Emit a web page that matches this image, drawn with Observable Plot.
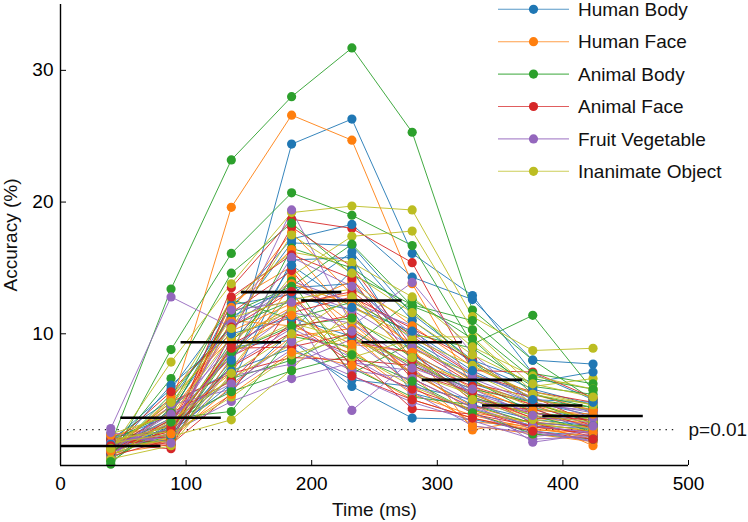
<!DOCTYPE html>
<html>
<head>
<meta charset="utf-8">
<script src="https://cdn.jsdelivr.net/npm/d3@7"></script>
<script src="https://cdn.jsdelivr.net/npm/@observablehq/plot@0.6"></script>
<style>
  body { margin: 0; background: #fff; }
  #wrap { position: relative; width: 748px; height: 522px; }
  #legend { position: absolute; left: 0; top: 0; pointer-events: none; }
</style>
</head>
<body>
<div id="wrap"></div>
<script>
// ---------- data ----------
const times = [40, 88, 136, 184, 232, 280, 328, 376, 424];
const categories = ["Human Body", "Human Face", "Animal Body", "Animal Face", "Fruit Vegetable", "Inanimate Object"];
const colors = ["#1f77b4", "#ff7f0e", "#2ca02c", "#d62728", "#9467bd", "#bcbd22"];

const humanBody = [
  [1.0, 3.0, 7.5, 24.4, 26.3, 16.1, 12.9, 7.0, 5.0],
  [1.8, 5.8, 12.0, 17.2, 18.3, 14.3, 12.6, 8.0, 7.7],
  [1.2, 4.2, 10.8, 16.9, 16.7, 11.5, 8.0, 6.3, 7.1],
  [0.8, 2.5, 6.2, 15.6, 15.8, 8.4, 5.5, 4.4, 2.4],
  [2.0, 5.0, 11.3, 13.5, 13.8, 9.5, 6.8, 5.5, 4.0],
  [1.5, 3.4, 8.5, 12.8, 11.8, 5.5, 4.3, 3.0, 2.8],
  [1.3, 2.0, 9.0, 9.5, 6.0, 3.6, 3.5, 2.6, 2.2],
  [0.6, 4.6, 7.2, 8.9, 6.5, 6.0, 5.0, 4.4, 3.4],
  [1.9, 3.8, 12.2, 13.0, 16.2, 11.0, 7.8, 5.8, 4.6],
  [1.4, 2.8, 5.8, 10.2, 14.8, 8.4, 6.2, 4.8, 3.8],
  [0.9, 6.1, 10.0, 11.2, 9.8, 7.0, 4.6, 3.5, 3.0],
  [1.6, 2.3, 8.0, 15.2, 12.0, 10.2, 7.2, 5.0, 4.8]
];
const humanFace = [
  [1.5, 4.5, 19.6, 26.6, 24.7, 13.8, 6.0, 4.0, 3.0],
  [1.2, 3.2, 11.8, 17.7, 13.0, 9.0, 2.7, 3.5, 1.5],
  [1.8, 2.2, 12.4, 15.1, 9.9, 6.0, 3.3, 3.0, 2.0],
  [0.9, 1.6, 8.2, 14.2, 10.8, 7.0, 4.5, 3.2, 2.6],
  [2.1, 4.0, 10.2, 12.3, 13.0, 8.0, 5.2, 3.6, 3.2],
  [1.4, 2.6, 11.0, 10.6, 8.8, 5.4, 3.8, 2.8, 2.2],
  [1.0, 3.5, 7.0, 13.8, 12.2, 9.2, 6.4, 4.6, 3.6],
  [1.7, 2.0, 6.0, 9.8, 10.4, 7.4, 4.0, 3.3, 2.9],
  [0.7, 5.2, 9.6, 12.0, 14.0, 10.6, 7.5, 5.4, 4.2],
  [1.3, 1.8, 12.0, 16.4, 11.2, 6.8, 3.0, 2.4, 1.8],
  [2.3, 3.0, 8.8, 11.4, 9.2, 8.6, 5.8, 4.2, 3.9],
  [1.1, 2.4, 5.4, 8.6, 7.6, 5.0, 3.6, 2.7, 2.5]
];
const animalBody = [
  [1.6, 13.4, 23.2, 28.0, 31.7, 25.3, 11.8, 8.0, 5.0],
  [0.4, 8.8, 16.1, 20.7, 19.0, 16.7, 9.2, 11.4, 5.7],
  [1.0, 6.6, 14.6, 18.4, 14.5, 12.2, 11.0, 7.0, 6.2],
  [0.1, 4.4, 12.6, 11.1, 12.4, 10.0, 8.9, 6.0, 5.4],
  [1.3, 3.6, 4.1, 9.8, 9.0, 12.6, 9.6, 5.4, 4.4],
  [2.2, 2.6, 9.4, 14.0, 7.4, 5.2, 4.6, 3.2, 3.0],
  [0.8, 5.4, 10.6, 12.5, 7.0, 9.3, 6.5, 4.0, 3.6],
  [1.7, 1.9, 7.8, 16.5, 15.0, 11.8, 7.8, 5.0, 4.4],
  [0.5, 3.0, 6.6, 8.0, 10.2, 7.6, 5.8, 4.8, 3.2],
  [1.9, 4.0, 11.6, 13.6, 16.8, 12.1, 10.3, 6.6, 5.8],
  [1.2, 2.2, 8.6, 10.6, 11.2, 8.2, 5.2, 3.8, 2.6],
  [0.3, 3.3, 5.6, 7.2, 8.4, 6.4, 4.0, 2.4, 2.0]
];
const animalFace = [
  [2.0, 2.15, 13.5, 18.7, 18.0, 15.4, 7.2, 7.1, 5.14],
  [1.6, 1.27, 10.0, 18.1, 15.1, 9.0, 6.2, 5.2, 3.17],
  [0.9, 3.5, 8.3, 10.5, 11.4, 6.6, 4.4, 4.3, 2.8],
  [1.4, 2.6, 7.5, 10.1, 8.5, 4.3, 3.9, 3.0, 2.4],
  [1.1, 4.8, 7.0, 8.2, 8.0, 7.6, 5.4, 3.6, 3.5],
  [2.1, 1.6, 5.45, 12.2, 13.2, 9.8, 6.9, 5.6, 4.8],
  [1.8, 3.0, 11.6, 14.8, 9.4, 8.6, 4.9, 4.0, 3.4],
  [0.7, 2.0, 9.2, 11.6, 12.8, 10.4, 8.0, 5.0, 4.2],
  [1.3, 4.0, 6.4, 10.9, 7.8, 5.8, 4.2, 2.9, 2.6],
  [1.9, 1.5, 12.8, 16.0, 14.2, 8.0, 6.0, 4.6, 3.0],
  [1.0, 2.8, 8.9, 9.0, 10.0, 7.0, 5.6, 3.2, 2.2],
  [1.5, 5.6, 10.5, 13.2, 6.8, 5.0, 3.6, 2.6, 2.0]
];
const fruitVegetable = [
  [2.8, 12.8, 10.5, 14.0, 12.4, 10.6, 5.06, 2.66, 1.8],
  [1.4, 3.2, 9.75, 19.4, 10.6, 13.9, 8.5, 4.6, 4.18],
  [1.0, 2.5, 4.86, 6.6, 7.8, 7.2, 4.8, 1.77, 2.4],
  [0.8, 4.2, 9.0, 11.9, 4.18, 8.0, 5.2, 3.3, 2.8],
  [1.9, 2.1, 6.8, 7.7, 9.6, 6.2, 4.0, 2.2, 2.6],
  [1.2, 3.6, 8.2, 11.6, 10.8, 7.8, 5.5, 4.0, 3.2],
  [2.2, 1.8, 7.6, 10.4, 8.2, 5.6, 3.0, 2.5, 1.9],
  [1.6, 2.8, 10.8, 13.4, 11.8, 9.0, 6.6, 4.8, 4.0],
  [0.6, 4.6, 5.8, 8.8, 6.8, 4.8, 3.4, 2.0, 2.2],
  [1.7, 2.4, 8.8, 15.8, 13.6, 10.0, 7.0, 5.2, 3.6],
  [1.1, 3.9, 6.2, 9.4, 7.2, 6.6, 4.4, 3.0, 2.5],
  [2.5, 1.7, 11.8, 12.4, 10.2, 7.4, 5.8, 3.8, 3.0]
];
const inanimateObject = [
  [1.2, 7.85, 13.8, 19.2, 19.7, 19.4, 11.3, 8.73, 8.9],
  [1.8, 3.0, 9.0, 14.4, 17.4, 17.8, 10.3, 6.0, 6.6],
  [0.9, 2.2, 3.47, 7.3, 12.0, 9.8, 9.75, 5.6, 4.6],
  [1.5, 4.4, 11.2, 12.6, 13.4, 11.0, 8.0, 5.0, 4.2],
  [2.0, 2.6, 8.6, 10.8, 9.6, 7.8, 6.4, 4.4, 3.6],
  [0.7, 3.4, 6.6, 9.2, 11.0, 8.8, 7.0, 4.8, 3.4],
  [1.4, 1.9, 7.4, 13.0, 8.6, 6.0, 4.2, 3.2, 2.6],
  [1.0, 5.0, 12.6, 16.2, 15.4, 12.8, 9.0, 6.8, 5.8],
  [1.7, 2.4, 5.2, 8.4, 9.8, 7.0, 5.4, 3.8, 3.3],
  [2.4, 3.8, 9.8, 11.7, 8.2, 9.6, 7.6, 5.4, 4.6],
  [0.5, 1.5, 7.0, 10.0, 12.8, 8.2, 5.0, 3.5, 2.8],
  [1.3, 4.8, 10.4, 17.5, 14.6, 11.6, 8.4, 6.2, 5.2]
];

// mean accuracy in sliding windows (black bars), window half-width in ms
const windowMeans = [1.48, 3.63, 9.36, 13.16, 12.53, 9.36, 6.5, 4.55, 3.76];
const windowHalf = 40;
const chanceLevel = 2.73;   // p = 0.01 threshold
const chanceLabel = "p=0.01";
const xTicks = [0, 100, 200, 300, 400, 500];
const yTicks = [10, 20, 30];
const xLabel = "Time (ms)";
const yLabel = "Accuracy (%)";

// ---------- tidy table ----------
const series = [humanBody, humanFace, animalBody, animalFace, fruitVegetable, inanimateObject];
const rows = [];
series.forEach((lines, c) => lines.forEach((vals, i) => vals.forEach((v, j) =>
  rows.push({cat: categories[c], id: c + "-" + i, idx: i, c, t: times[j], v}))));
// interleave dot drawing order across categories
const dotRows = rows.slice().sort((a, b) => (a.idx - b.idx) || (a.c - b.c));
const windows = times.map((t, i) => ({t, m: windowMeans[i]}));

const font = "'Liberation Sans', Arial, Helvetica, sans-serif";

const chart = Plot.plot({
  width: 748,
  height: 522,
  marginLeft: 60,
  marginRight: 60,
  marginTop: 4,
  marginBottom: 57,
  x: {domain: [0, 500]},
  y: {domain: [0, 35]},
  color: {domain: categories, range: colors},
  style: {fontFamily: font, fontSize: "19px", color: "#000", background: "#fff"},
  marks: [
    Plot.ruleY([chanceLevel], {stroke: "#222", strokeWidth: 1.3, strokeDasharray: "1.4,4.9", insetLeft: 7, insetRight: 10}),
    Plot.text([chanceLevel], {y: d => d, text: () => chanceLabel, frameAnchor: "right", textAnchor: "start", dx: 0, fontSize: 19, fill: "#111"}),
    Plot.line(rows, {x: "t", y: "v", z: "id", stroke: "cat", strokeWidth: 0.9}),
    Plot.dot(dotRows, {x: "t", y: "v", fill: "cat", r: 4.6, stroke: "none"}),
    Plot.ruleY(windows, {y: "m", x1: d => d.t - windowHalf, x2: d => d.t + windowHalf, stroke: "#000", strokeWidth: 2.6}),
    Plot.ruleX([0], {stroke: "#000", strokeWidth: 1.4}),
    Plot.ruleY([0], {stroke: "#000", strokeWidth: 1.4}),
    Plot.axisY({ticks: yTicks, tickSize: -6, tickPadding: 13, label: null, fontSize: 19}),
    Plot.axisX({ticks: xTicks, tickSize: -5, tickPadding: 16, label: null, fontSize: 19}),
    Plot.text([yLabel], {text: d => d, frameAnchor: "left", rotate: -90, dx: -57, lineAnchor: "top", textAnchor: "middle", fontSize: 19, fill: "#111"}),
    Plot.text([xLabel], {text: d => d, frameAnchor: "bottom", dy: 50, lineAnchor: "bottom", textAnchor: "middle", fontSize: 19, fill: "#111"})
  ]
});

const wrap = document.getElementById("wrap");
wrap.appendChild(chart);

// ---------- legend overlay ----------
const leg = d3.select(wrap).append("svg")
  .attr("id", "legend").attr("width", 748).attr("height", 522)
  .style("font-family", font).style("font-size", "19px");
const legX0 = 498, legX1 = 569, legDot = 533.5, legText = 578, legY0 = 9.3, legDy = 32.4;
categories.forEach((name, i) => {
  const g = leg.append("g").attr("transform", `translate(0,${legY0 + i * legDy})`);
  g.append("line").attr("x1", legX0).attr("x2", legX1).attr("y1", 0).attr("y2", 0)
    .attr("stroke", colors[i]).attr("stroke-width", 1.1).attr("stroke-opacity", 0.75);
  g.append("circle").attr("cx", legDot).attr("cy", 0).attr("r", 4.6).attr("fill", colors[i]);
  g.append("text").attr("x", legText).attr("y", 0).attr("dy", "0.35em").attr("fill", "#111").text(name);
});
</script>
</body>
</html>
